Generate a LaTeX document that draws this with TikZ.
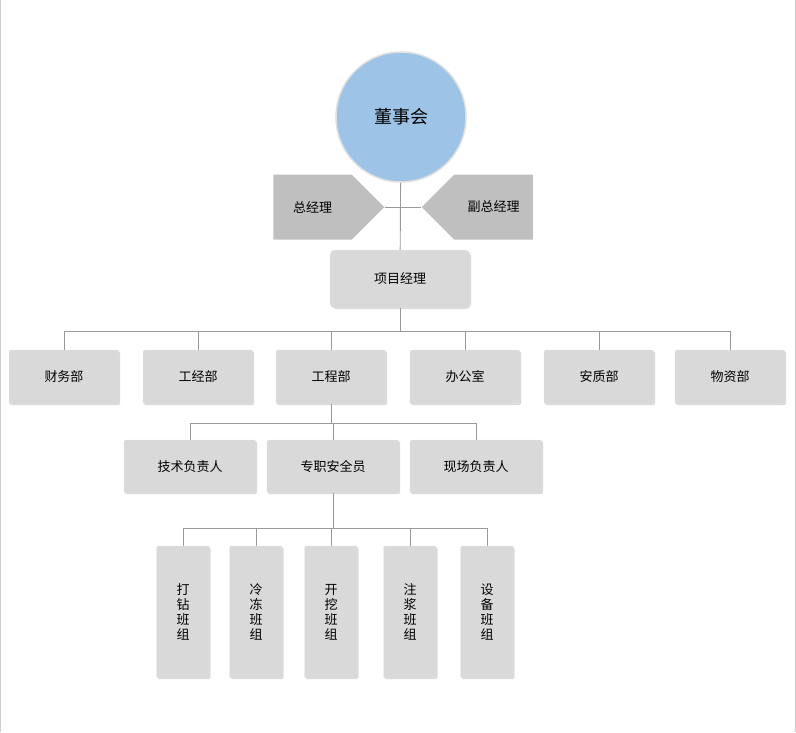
\documentclass[tikz,border=0pt]{standalone}
\usepackage{fontspec}
\newfontfamily\cjk{Noto Sans CJK SC}
\usetikzlibrary{positioning,shapes.symbols,shadows}

\begin{document}
\begin{tikzpicture}[x=1pt,y=-1pt,cjk/.style={font=\cjk\fontsize{13}{15}\selectfont},
    box/.style={cjk,rectangle,rounded corners=1.5pt,fill=gray!30,draw=gray!20,drop shadow={opacity=0.3,shadow xshift=1pt,shadow yshift=-1pt}},
    dept/.style={box,minimum width=110pt,minimum height=54pt},
    lead/.style={box,minimum width=132pt,minimum height=53pt},
    team/.style={box,minimum width=53pt,minimum height=132pt,align=center},
    gm/.style={cjk,signal,fill=gray!50,minimum width=111pt,minimum height=65pt,inner sep=0pt},
    link/.style={draw=gray!80,line width=0.9pt}]
    \useasboundingbox (0,0) rectangle (796,732);
    \draw[gray!40] (0.5,0) -- (0.5,732) (795.5,0) -- (795.5,732);

    \node[circle,cjk,font=\cjk\fontsize{18}{20}\selectfont,fill={rgb,255:red,157;green,195;blue,230},draw=gray!25,line width=1.5pt,minimum size=130pt] (board) at (401,117) {董事会};
    \node[gm,signal to=east] (gm) at (312.5,207) {总经理};
    \node[gm,signal to=west] (dgm) at (493.5,207) {副总经理};
    \node[box,minimum width=140pt,minimum height=58pt,rounded corners=5pt] (pm) at (400,279) {项目经理};

    \draw[link] (board) -- (pm);
    \draw[link] (gm.east) -- (dgm.west);

    % departments
    \foreach \n/\x/\t in {d1/64/财务部,d2/198/工经部,d3/331/工程部,d4/465/办公室,d5/599/安质部,d6/730/物资部}{
        \node[dept] (\n) at (\x,377) {\t};
        \draw[link] (\n.north) -- (\x,331);
    }
    \draw[link] (64,331) -- (730,331);
    \draw[link] (pm) -- (400,331);

    % engineering
    \foreach \n/\x/\t in {l1/190/技术负责人,l2/333/专职安全员,l3/476/现场负责人}{
        \node[lead] (\n) at (\x,466.5) {\t};
        \draw[link] (\n.north) -- (\x,423);
    }
    \draw[link] (190,423) -- (476,423);
    \draw[link] (d3) -- (331,423);

    % teams
    \foreach \n/\x/\t in {t1/183/打\\钻\\班\\组,t2/256/冷\\冻\\班\\组,t3/331/开\\挖\\班\\组,t4/410/注\\浆\\班\\组,t5/487/设\\备\\班\\组}{
        \node[team] (\n) at (\x,612) {\t};
        \draw[link] (\n.north) -- (\x,528);
    }
    \draw[link] (183,528) -- (487,528);
    \draw[link] (l2) -- (333,528);
\end{tikzpicture}
\end{document}
